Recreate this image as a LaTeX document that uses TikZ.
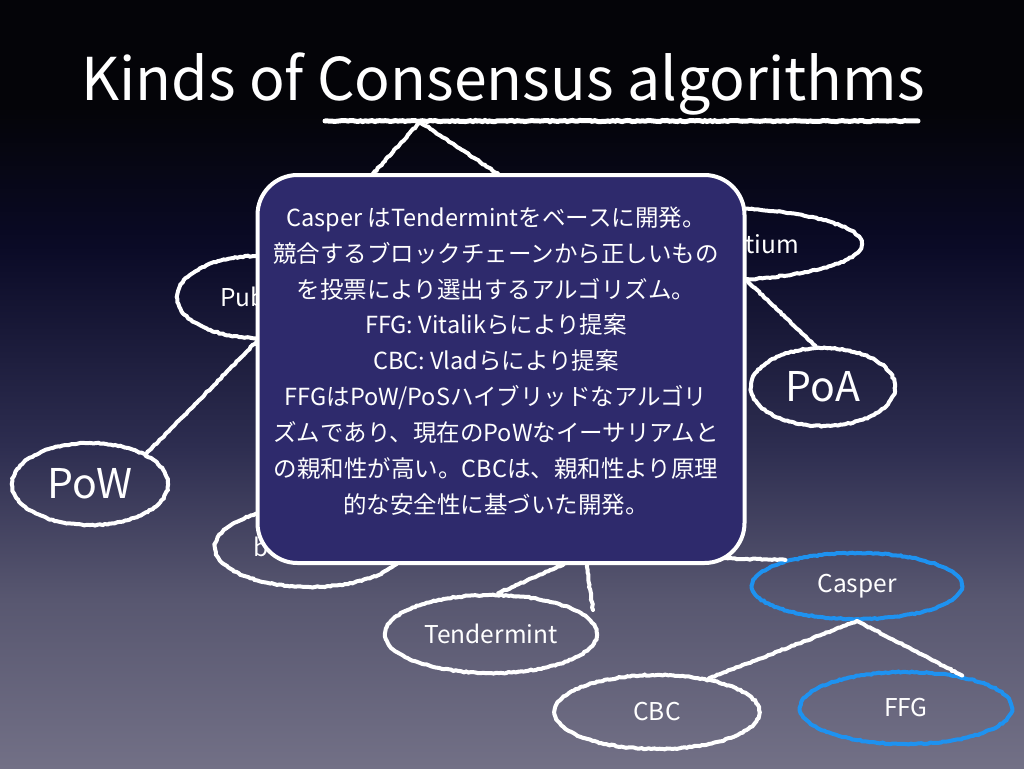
\documentclass[tikz,border=0pt]{standalone}
\usepackage{fontspec}
\setmainfont{Noto Sans CJK JP}
\usepackage{xcolor}
\usepackage{tikz}
\usetikzlibrary{shapes.geometric, positioning, decorations.pathmorphing}
\definecolor{bgtop}{RGB}{4,4,8}
\definecolor{bgnavy}{RGB}{10,10,38}
\definecolor{bgmid}{RGB}{45,45,80}
\definecolor{bglow}{RGB}{88,87,112}
\definecolor{bgbot}{RGB}{114,112,134}
\definecolor{noteblue}{RGB}{46,42,108}
\definecolor{chalkblue}{RGB}{30,146,240}
\pgfdeclareverticalshading{slidebg}{100bp}{%
  color(0bp)=(bgbot); color(25bp)=(bgbot); color(36bp)=(bglow);
  color(46bp)=(bgmid); color(59bp)=(bgnavy); color(68bp)=(bgtop);
  color(75bp)=(bgtop); color(100bp)=(bgtop)}
\tikzset{
      chalkline/.style   = {draw=white, line width=4pt, line cap=round,
                            decorate, decoration={random steps,
                            segment length=2.5pt, amplitude=0.6pt}},
      algo/.style        = {ellipse, chalkline, text=white, inner sep=0pt,
                            font=\fontsize{24.5}{26}\selectfont},
      bigalgo/.style     = {algo, font=\fontsize{41}{44}\selectfont},
      casperalgo/.style  = {algo, draw=chalkblue},
      callout/.style     = {rectangle, rounded corners=40pt, fill=noteblue,
                            draw=white, line width=4pt,
                            minimum width=487pt, minimum height=388pt},
      notetext/.style    = {text=white, align=center,
                            font=\fontsize{23.5}{35.9}\selectfont}
    }
\pgfmathsetseed{11}

\begin{document}
\begin{tikzpicture}[x=1pt, y=-1pt]
  % Slide background
  \shade[shading=slidebg] (0,0) rectangle (1024,768);
  \useasboundingbox (0,0) rectangle (1024,768);
  % Title and underline
  \node[anchor=base, text=white, font=\fontsize{59}{64}\selectfont] (title)
       at (503,100) {Kinds of Consensus algorithms};
  \coordinate (ulleft) at (325,121);
  \coordinate (ulright) at (918,121);
  \coordinate (root) at (420,122);
  \draw[chalkline, line width=5pt] (ulleft) -- (ulright);
  % Tree nodes
  \node[algo, minimum width=162pt, minimum height=82pt,
        text width=76pt, align=left] (public) at (258,297) {Public};
  \node[algo, minimum width=324pt, minimum height=74pt,
        text width=198pt, align=right] (consortium) at (700,244) {Consortium};
  \node[bigalgo, minimum width=144pt, minimum height=78pt] (poa) at (823,387) {PoA};
  \node[bigalgo, minimum width=156pt, minimum height=82pt] (pow) at (90,484) {PoW};
  \node[algo, minimum width=190pt, minimum height=80pt,
        text width=114pt, align=left] (bft) at (310,547) {b};
  \node[algo, minimum width=212pt, minimum height=78pt] (tendermint) at (491,634) {Tendermint};
  \node[algo, minimum width=205pt, minimum height=74pt] (cbc) at (657,712) {CBC};
  \node[casperalgo, minimum width=210pt, minimum height=66pt] (casper) at (857,586) {Casper};
  \node[casperalgo, minimum width=212pt, minimum height=72pt] (ffg) at (906,708) {FFG};
  \coordinate (hub) at (585,555);
  \coordinate (stub) at (593,610);
  % Connectors
  \draw[chalkline] (root) -- (public.45);
  \draw[chalkline] (root) -- (consortium.170);
  \draw[chalkline] (public.south) -- (pow.north east);
  \draw[chalkline] (consortium.-38) -- (poa.100);
  \draw[chalkline] (hub) -- (tendermint.80);
  \draw[chalkline] (hub) -- (casper.160);
  \draw[chalkline] (hub) -- (stub);
  \draw[chalkline] (casper.south) -- (cbc.33);
  \draw[chalkline] (casper.south) -- (ffg.30);
  % Callout over the tree
  \node[callout] (note) at (501,369) {};
  \node[notetext] (notetxt) at (496,361) {%
    Casper はTendermintをベースに開発。\\
    競合するブロックチェーンから正しいもの\\
    を投票により選出するアルゴリズム。\\
    FFG: Vitalikらにより提案\\
    CBC: Vladらにより提案\\
    FFGはPoW/PoSハイブリッドなアルゴリ\\
    ズムであり、現在のPoWなイーサリアムと\\
    の親和性が高い。CBCは、親和性より原理\\
    的な安全性に基づいた開発。};
\end{tikzpicture}
\end{document}
